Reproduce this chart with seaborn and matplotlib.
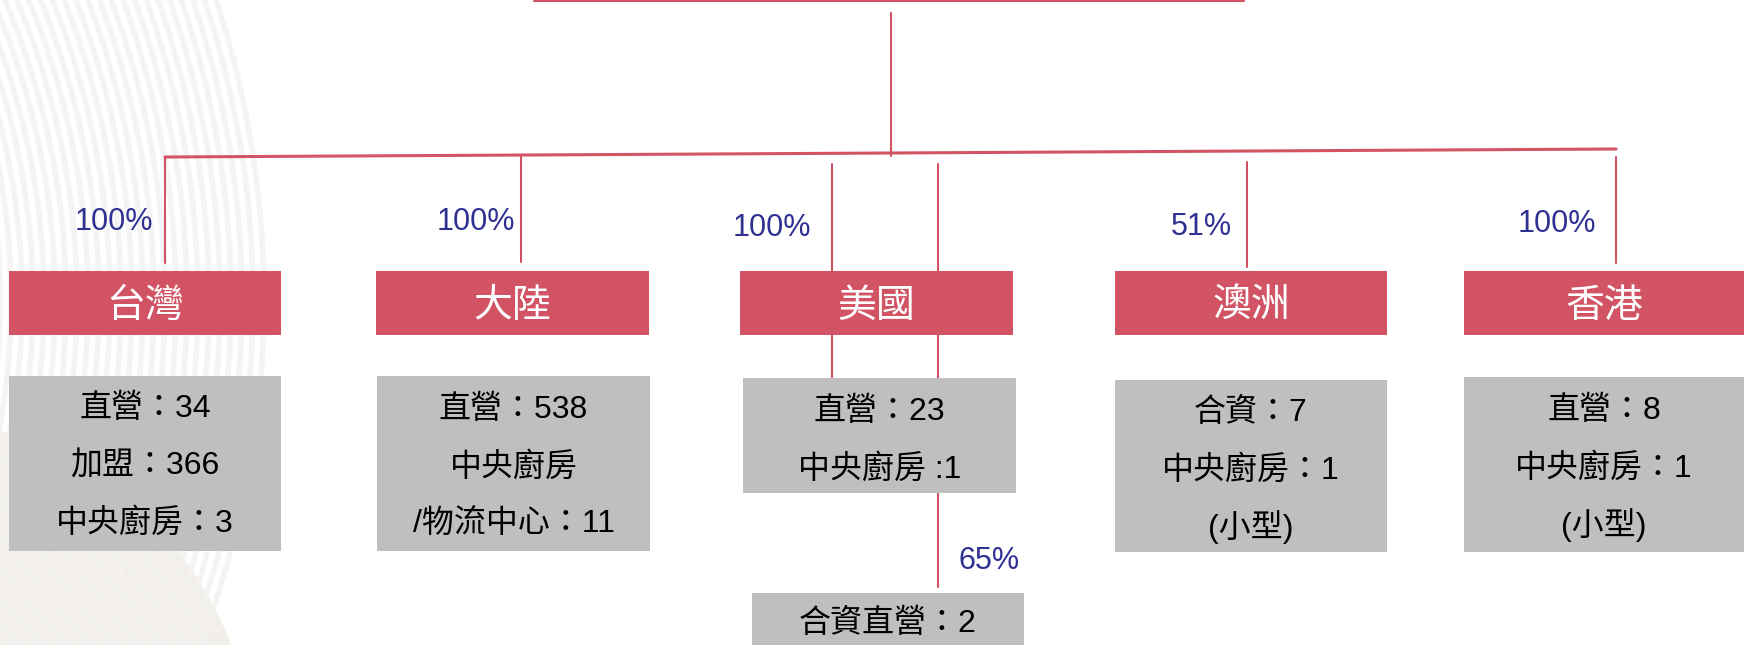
"""
Group structure chart: subsidiaries by region, ownership share and store counts.
Drawn in pixel coordinates on a single borderless axes.
"""

import matplotlib
matplotlib.use("Agg")
import matplotlib.pyplot as plt
from matplotlib.patches import Rectangle, Circle
import seaborn as sns

# ---- chart content -------------------------------------------------------
regions = ["台灣", "大陸", "美國", "澳洲", "香港"]
stakes = ["100%", "100%", "100%", "51%", "100%"]
details = [
    ["直營：34", "加盟：366", "中央廚房：3"],
    ["直營：538", "中央廚房", "/物流中心：11"],
    ["直營：23", "中央廚房 :1"],
    ["合資：7", "中央廚房：1", "(小型)"],
    ["直營：8", "中央廚房：1", "(小型)"],
]
us_sub_stake = "65%"
us_sub_detail = "合資直營：2"

# ---- layout (pixels, y grows downward) ----------------------------------
W, H = 1744, 645
RED = "#D25464"
GREY = "#BFBFBF"
BLUE = "#2E3192"
FONT = ["Liberation Sans", "Noto Sans CJK TC", "DejaVu Sans"]

red_left = [9, 376, 740, 1115, 1464]
red_right = [281, 649, 1013, 1387, 1744]
red_top, red_bottom = 271, 335

grey_left = [9, 377, 743, 1115, 1464]
grey_right = [281, 650, 1016, 1387, 1744]
grey_top = [376, 376, 378, 380, 377]
grey_bottom = [551, 551, 493, 552, 552]
line_y0 = [409, 410, 412, 413, 411]
line_gap = 57

stake_x = [114, 476, 772, 1201, 1557]
stake_y = [222, 222, 228, 227, 224]

drop_x = [165, 521, 832, 1247, 1616]
drop_top = [157, 155, 164, 162, 157]
drop_bottom = [263, 262, 377, 267, 263]

sns.set_theme(style="white")
plt.rcParams["font.family"] = FONT

fig = plt.figure(figsize=(W / 100, H / 100), dpi=100)
ax = fig.add_axes([0, 0, 1, 1])
ax.set_xlim(0, W)
ax.set_ylim(H, 0)
ax.axis("off")
sns.despine(ax=ax, left=True, bottom=True)

# faint background decoration on the left
ax.add_patch(Circle((-100, 770), 354, color="#F2EFEB", lw=0, zorder=0))
for r in range(700, 965, 11):
    ax.add_patch(Circle((-700, 300), r, fill=False, ec="#F2F2F2",
                        lw=4, alpha=0.8, zorder=0.5))

lw = 1.5
# connector to the parent box (its bottom edge at the top of the frame)
ax.plot([534, 1244], [0.6, 0.6], color=RED, lw=lw, zorder=2)
ax.plot([891, 891], [13, 156], color=RED, lw=lw, zorder=2)
ax.plot([165, 1616], [157, 149], color=RED, lw=2.2, zorder=2)

for x, y0, y1 in zip(drop_x, drop_top, drop_bottom):
    ax.plot([x, x], [y0, y1], color=RED, lw=lw, zorder=2)
# second US connector, running on to the joint venture box
ax.plot([938, 938], [164, 378], color=RED, lw=lw, zorder=2)
ax.plot([938, 938], [493, 587], color=RED, lw=lw, zorder=2)

for i, name in enumerate(regions):
    ax.add_patch(Rectangle((red_left[i], red_top), red_right[i] - red_left[i],
                           red_bottom - red_top, color=RED, lw=0, zorder=3))
    ax.text((red_left[i] + red_right[i]) / 2, (red_top + red_bottom) / 2 + 4, name,
            color="white", fontsize=28, ha="center", va="center", zorder=4)

    ax.add_patch(Rectangle((grey_left[i], grey_top[i]), grey_right[i] - grey_left[i],
                           grey_bottom[i] - grey_top[i], color=GREY, lw=0, zorder=3))
    cx = (grey_left[i] + grey_right[i]) / 2
    for k, line in enumerate(details[i]):
        ax.text(cx, line_y0[i] + k * line_gap, line, color="black", fontsize=23,
                ha="center", va="center", zorder=4)

    ax.text(stake_x[i], stake_y[i], stakes[i], color=BLUE, fontsize=22,
            ha="center", va="center", zorder=4)

# US joint venture
ax.add_patch(Rectangle((752, 593), 1024 - 752, H - 593 + 5, color=GREY, lw=0, zorder=3))
ax.text(888, 624, us_sub_detail, color="black", fontsize=23,
        ha="center", va="center", zorder=4)
ax.text(989, 561, us_sub_stake, color=BLUE, fontsize=22,
        ha="center", va="center", zorder=4)

fig.savefig("out.png", dpi=100)
plt.close(fig)
